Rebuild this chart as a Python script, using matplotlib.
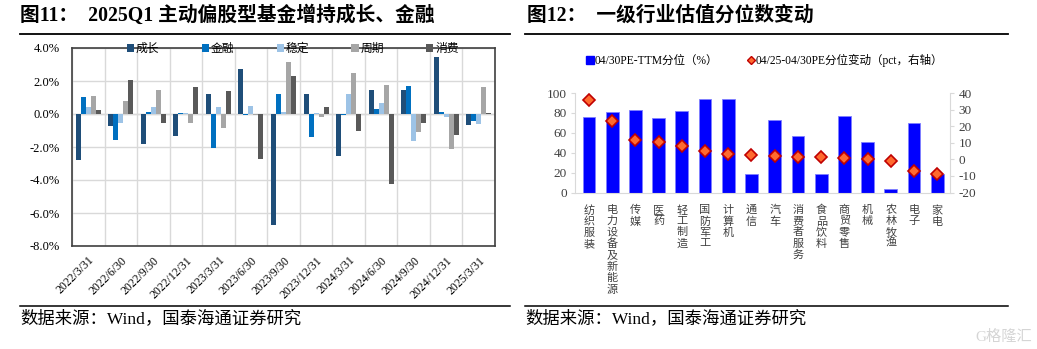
import numpy as np
import matplotlib
matplotlib.use("Agg")
import matplotlib.pyplot as plt
from matplotlib.lines import Line2D

plt.rcParams['font.family'] = ['Liberation Serif', 'Noto Sans CJK SC']
plt.rcParams['axes.unicode_minus'] = False

# dados do grafico da esquerda (variacao de posicao, %)
datas = ["2022/3/31", "2022/6/30", "2022/9/30", "2022/12/31", "2023/3/31", "2023/6/30",
         "2023/9/30", "2023/12/31", "2024/3/31", "2024/6/30", "2024/9/30", "2024/12/31", "2025/3/31"]
chengzhang = [-2.77, -0.75, -1.84, -1.35, 1.23, 2.73, -6.75, 1.21, -2.57, 1.47, 1.47, 3.45, -0.65]
jinrong = [1.05, -1.60, 0.12, 0.06, -2.06, -0.08, 1.21, -1.41, -0.08, 0.28, 1.68, 0.12, -0.44]
wending = [0.40, -0.57, 0.44, 0.06, 0.44, 0.50, 0.14, 0.08, 1.23, 0.69, -1.62, -0.16, -0.60]
zhouqi = [1.09, 0.81, 1.43, -0.55, -0.87, -0.05, 3.15, -0.20, 2.48, 1.76, -1.11, -2.14, 1.66]
xiaofei = [0.26, 2.06, -0.53, 1.66, 1.39, -2.73, 2.30, 0.42, -1.05, -4.26, -0.53, -1.27, 0.08]
series_names = ["成长", "金融", "稳定", "周期", "消费"]
series_cores = ["#1F4E79", "#0070C0", "#9DC3E6", "#A6A6A6", "#595959"]

# dados do grafico da direita
setores = ["纺织服装", "电力设备及新能源", "传媒", "医药", "轻工制造", "国防军工", "计算机", "通信",
           "汽车", "消费者服务", "食品饮料", "商贸零售", "机械", "农林牧渔", "电子", "家电"]
pe_pct = [75.4, 80.5, 82.5, 74.7, 81.8, 93.9, 93.6, 18.5, 73.0, 56.6, 18.9, 76.8, 51.2, 3.4, 69.7, 18.2]
pe_var = [35.8, 23.2, 11.7, 10.3, 8.3, 5.1, 3.4, 2.6, 2.0, 1.6, 1.4, 1.0, 0.2, -1.0, -7.1, -9.1]

W, H = 1037, 349
fig = plt.figure(figsize=(W / 100, H / 100), dpi=100)


def fx(px):
    return px / W


def fy(py):
    return 1 - py / H


# titulos, linhas e fonte
fig.text(fx(20), fy(16), "图11：  2025Q1 主动偏股型基金增持成长、金融", fontsize=14.2,
         fontweight='bold', va='center', ha='left')
fig.text(fx(527), fy(16), "图12：  一级行业估值分位数变动", fontsize=14.2,
         fontweight='bold', va='center', ha='left')
for x0, x1 in [(20, 510), (525, 1008)]:
    fig.add_artist(Line2D([fx(x0), fx(x1)], [fy(34), fy(34)], color='black', lw=1.3))
    fig.add_artist(Line2D([fx(x0), fx(x1)], [fy(306), fy(306)], color='black', lw=1.1))
fig.text(fx(20), fy(319), "数据来源：Wind，国泰海通证券研究", fontsize=12.5, va='center', ha='left')
fig.text(fx(525), fy(319), "数据来源：Wind，国泰海通证券研究", fontsize=12.5, va='center', ha='left')
fig.text(fx(1032), fy(337), "G格隆汇", fontsize=11, color='#D5D5D5', va='center', ha='right')

# ---- grafico da esquerda ----
ax1 = fig.add_axes([fx(72), fy(246), fx(495) - fx(72), fy(48) - fy(246)])
x = np.arange(len(datas))
largura = 0.154
todas = [chengzhang, jinrong, wending, zhouqi, xiaofei]
for i, (vals, nome, cor) in enumerate(zip(todas, series_names, series_cores)):
    ax1.bar(x + (i - 2) * largura, vals, largura, color=cor, label=nome, zorder=3)
ax1.set_xlim(-0.5, len(datas) - 0.5)
ax1.set_ylim(-8, 4)
ax1.set_yticks(np.arange(-8, 4.1, 2))
ax1.set_yticklabels([f"{v:.1f}%" for v in np.arange(-8, 4.1, 2)], fontsize=9)
ax1.set_xticks(x)
ax1.set_xticklabels(datas, rotation=45, ha='right', rotation_mode='anchor', fontsize=8.5)
ax1.set_xticks(np.arange(-0.5, len(datas), 1), minor=True)
ax1.tick_params(axis='both', which='both', length=0)
ax1.tick_params(axis='x', pad=6)
ax1.tick_params(axis='y', pad=9)
ax1.grid(True, axis='y', color='#D9D9D9', lw=1, zorder=0)
ax1.grid(True, axis='x', which='minor', color='#D9D9D9', lw=1, zorder=0)
ax1.axhline(0, color='#D9D9D9', lw=1, zorder=1)
for s in ax1.spines.values():
    s.set_color('#404040')
    s.set_linewidth(1.2)
ax1.legend(loc='center', bbox_to_anchor=(0.522, 0.995), ncol=5, frameon=False, fontsize=8.5,
           handlelength=0.6, handleheight=0.6, handletextpad=0.15, columnspacing=3.6)

# ---- grafico da direita ----
ax2 = fig.add_axes([fx(575), fy(192.5), fx(950) - fx(575), fy(93) - fy(192.5)])
ax3 = ax2.twinx()
xs = np.arange(len(setores))
ax2.bar(xs, pe_pct, 0.55, color='#0000FF', edgecolor='#8080FF', linewidth=0.6, zorder=2)
ax3.plot(xs, pe_var, linestyle='none', marker='D', markersize=6,
         markerfacecolor='#FF6A2E', markeredgecolor='#C00000', markeredgewidth=1.2, zorder=3)
ax2.set_xlim(-0.6, len(setores) - 0.45)
ax2.set_ylim(0, 100)
ax3.set_ylim(-20, 40)
ax2.set_yticks(np.arange(0, 101, 20))
ax3.set_yticks(np.arange(-20, 41, 10))
ax2.set_xticks(xs)
ax2.set_xticklabels(["\n".join(s) for s in setores], fontsize=8, linespacing=1.15,
                    va='top', color='#404040')
ax2.tick_params(axis='x', length=0, pad=9)
ax2.tick_params(axis='y', length=3, color='#D9D9D9', labelsize=9.5, labelcolor='#404040', pad=3)
ax3.tick_params(axis='y', length=3, color='#D9D9D9', labelsize=9.5, labelcolor='#404040', pad=3)
for a in (ax2, ax3):
    a.spines['top'].set_visible(False)
    for s in ('left', 'right', 'bottom'):
        a.spines[s].set_color('#D9D9D9')
ax2.spines['right'].set_visible(False)
ax3.spines['left'].set_visible(False)
ax3.spines['bottom'].set_visible(False)

# legenda da direita
handles = [Line2D([], [], linestyle='none', marker='s', markersize=6,
                  markerfacecolor='#0000FF', markeredgecolor='#0000FF'),
           Line2D([], [], linestyle='none', marker='D', markersize=4,
                  markerfacecolor='#FF6A2E', markeredgecolor='#C00000', markeredgewidth=1)]
fig.legend(handles, ["04/30PE-TTM分位（%）", "04/25-04/30PE分位变动（pct，右轴）"],
           loc='center left', bbox_to_anchor=(fx(576), fy(60)), ncol=2, frameon=False,
           fontsize=8.3, handlelength=0.6, handletextpad=0.1, columnspacing=2.6)

fig.savefig("out.png", dpi=100)
